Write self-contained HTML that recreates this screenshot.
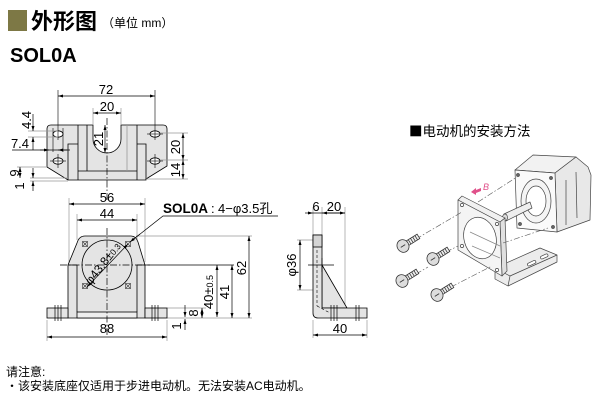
<!DOCTYPE html>
<html><head><meta charset="utf-8"><style>
html,body{margin:0;padding:0;background:#fff;}
body{width:600px;height:400px;overflow:hidden;position:relative;font-family:"Liberation Sans","Noto Sans CJK SC",sans-serif;}
svg{position:absolute;left:0;top:0;}
</style></head><body>
<svg width="600" height="400" viewBox="0 0 600 400" xmlns="http://www.w3.org/2000/svg" font-family="'Liberation Sans','Noto Sans CJK SC',sans-serif">
<defs>
<marker id="a" viewBox="0 0 10 6" refX="10" refY="3" markerWidth="6" markerHeight="3" orient="auto-start-reverse" markerUnits="userSpaceOnUse"><path d="M0,0L10,3L0,6z" fill="#000"/></marker>
</defs>

<!-- header -->
<rect x="8" y="10" width="19" height="21" fill="#7d7845"/>
<text x="31" y="29" font-size="22" font-weight="bold" font-family="'Noto Sans CJK SC',sans-serif">外形图</text>
<text x="102" y="27" font-size="12" font-family="'Liberation Sans','Noto Sans CJK SC',sans-serif">（单位 mm）</text>
<text x="10" y="62" font-size="20" font-weight="bold">SOL0A</text>

<!-- ============ TOP VIEW ============ -->
<g stroke="#000" stroke-width="0.8">
<path d="M47,129 Q47,125 51,125 L93,125 L93,139 A14,14 0 0 0 121,139 L121,125 L163,125 Q167,125 167,129 L167,166 L146,179 L146,180 L68,180 L47,167 Z" fill="#e4e4e4"/>
<line x1="78" y1="125" x2="78" y2="180"/>
<line x1="137" y1="125" x2="137" y2="180"/>
<line x1="78" y1="171" x2="137" y2="171"/>
<line x1="87" y1="125" x2="87" y2="171"/>
<line x1="127" y1="125" x2="127" y2="171" stroke="#999"/>
<polyline points="68,180 68,144 78,144" fill="none"/>
<polyline points="137,144 146,144 146,180" fill="none"/>
<ellipse cx="58" cy="134" rx="5" ry="3.2" fill="#fff"/>
<ellipse cx="58" cy="161" rx="5" ry="3.2" fill="#fff"/>
<ellipse cx="155" cy="134" rx="5" ry="3.2" fill="#fff"/>
<ellipse cx="155" cy="161" rx="5" ry="3.2" fill="#fff"/>
</g>
<g stroke="#000" stroke-width="0.6">
<line x1="50" y1="161" x2="66" y2="161"/><line x1="147" y1="161" x2="163" y2="161"/>
<line x1="147" y1="134" x2="163" y2="134"/>
<line x1="58" y1="154" x2="58" y2="168"/><line x1="155" y1="154" x2="155" y2="168"/>
<line x1="155" y1="90" x2="155" y2="140"/>
<line x1="58" y1="90" x2="58" y2="140"/>
<line x1="53" y1="128" x2="53" y2="152"/><line x1="63" y1="128" x2="63" y2="152"/>
</g>
<line x1="107" y1="118" x2="107" y2="200" stroke="#000" stroke-width="0.7" stroke-dasharray="7,2,1.5,2"/>
<g stroke="#999" stroke-width="0.7">
<line x1="93" y1="108" x2="93" y2="125"/><line x1="121" y1="108" x2="121" y2="125"/>
<line x1="160" y1="133" x2="188" y2="133"/><line x1="160" y1="160" x2="188" y2="160"/><line x1="146" y1="179" x2="188" y2="179"/>
<line x1="28" y1="131" x2="58" y2="131"/><line x1="28" y1="137" x2="58" y2="137"/>
<line x1="17" y1="167" x2="47" y2="167"/>
<line x1="30" y1="178" x2="68" y2="178"/><line x1="30" y1="181" x2="68" y2="181"/>
</g>
<g stroke="#000" stroke-width="0.7" fill="none">
<line x1="58" y1="96" x2="155" y2="96" marker-start="url(#a)" marker-end="url(#a)"/>
<line x1="93" y1="113" x2="121" y2="113" marker-start="url(#a)" marker-end="url(#a)"/>
<line x1="105" y1="125" x2="105" y2="153" marker-start="url(#a)" marker-end="url(#a)"/>
<line x1="183" y1="133" x2="183" y2="160" marker-start="url(#a)" marker-end="url(#a)"/>
<line x1="183" y1="160" x2="183" y2="179" marker-start="url(#a)" marker-end="url(#a)"/>
<line x1="33" y1="114" x2="33" y2="131" marker-end="url(#a)"/>
<line x1="33" y1="150" x2="33" y2="137" marker-end="url(#a)"/>
<line x1="12" y1="150" x2="70" y2="150"/>
<line x1="40" y1="150" x2="49" y2="150" marker-end="url(#a)"/>
<line x1="67" y1="150" x2="58" y2="150" marker-end="url(#a)"/>
<line x1="20" y1="167" x2="20" y2="178" marker-start="url(#a)" marker-end="url(#a)"/>
<line x1="33" y1="168" x2="33" y2="178" marker-end="url(#a)"/>
<line x1="33" y1="191" x2="33" y2="181" marker-end="url(#a)"/>
</g>
<g font-size="13" fill="#000">
<text x="106" y="94" text-anchor="middle">72</text>
<text x="107" y="111" text-anchor="middle">20</text>
<text transform="translate(103,139) rotate(-90)" text-anchor="middle">21</text>
<text transform="translate(180,147) rotate(-90)" text-anchor="middle">20</text>
<text transform="translate(180,170) rotate(-90)" text-anchor="middle">14</text>
<text transform="translate(31,120) rotate(-90)" text-anchor="middle">4.4</text>
<text x="20" y="148" text-anchor="middle">7.4</text>
<text transform="translate(19,173) rotate(-90)" text-anchor="middle">9</text>
<text transform="translate(24,186) rotate(-90)" text-anchor="middle">1</text>
</g>

<!-- ============ FRONT VIEW ============ -->
<g stroke="#999" stroke-width="0.7">
<line x1="69" y1="198" x2="69" y2="262"/><line x1="145" y1="198" x2="145" y2="262"/>
<line x1="77" y1="214" x2="77" y2="240"/><line x1="137" y1="214" x2="137" y2="240"/>
<line x1="136" y1="236" x2="252" y2="236"/>
<line x1="167" y1="318" x2="252" y2="318"/>
<line x1="167" y1="308" x2="206" y2="308"/>
<line x1="47" y1="320" x2="47" y2="341"/><line x1="167" y1="320" x2="167" y2="341"/>
</g>
<g stroke="#000" stroke-width="0.8">
<path d="M68,318 L68,265 L77,243 Q79,236 85,236 L131,236 Q136,236 138,242 L145,265 L145,318 Z" fill="#e4e4e4"/>
<rect x="47" y="308" width="21" height="10" fill="#e4e4e4"/>
<rect x="145" y="308" width="22" height="10" fill="#e4e4e4"/>
<rect x="77" y="312" width="60" height="6" fill="#eeeeee"/>
<line x1="77" y1="265" x2="77" y2="312"/><line x1="137" y1="265" x2="137" y2="312"/>
<line x1="68" y1="265" x2="77" y2="265"/><line x1="137" y1="265" x2="145" y2="265"/>
<circle cx="107" cy="265" r="25" fill="none"/>
</g>
<g stroke="#000" stroke-width="0.7">
<line x1="55" y1="305" x2="55" y2="321"/><line x1="58" y1="305" x2="58" y2="321"/><line x1="61" y1="305" x2="61" y2="321"/>
<line x1="152" y1="305" x2="152" y2="321"/><line x1="155" y1="305" x2="155" y2="321"/><line x1="158" y1="305" x2="158" y2="321"/>
</g>
<g stroke="#333" stroke-width="0.6" fill="none">
<rect x="82.5" y="241.5" width="5" height="5"/><path d="M82.5,241.5l5,5M87.5,241.5l-5,5"/>
<rect x="125.5" y="241.5" width="5" height="5"/><path d="M125.5,241.5l5,5M130.5,241.5l-5,5"/>
<rect x="82.5" y="283.5" width="5" height="5"/><path d="M82.5,283.5l5,5M87.5,283.5l-5,5"/>
<rect x="125.5" y="283.5" width="5" height="5"/><path d="M125.5,283.5l5,5M130.5,283.5l-5,5"/>
</g>
<g stroke="#000" stroke-width="0.7" stroke-dasharray="7,2,1.5,2">
<line x1="107" y1="228" x2="107" y2="336"/>
<line x1="60" y1="265" x2="150" y2="265"/>
</g>
<line x1="145" y1="265" x2="234" y2="265" stroke="#000" stroke-width="0.7"/>
<g stroke="#000" stroke-width="0.7" fill="none">
<line x1="69" y1="204" x2="145" y2="204" marker-start="url(#a)" marker-end="url(#a)"/>
<line x1="77" y1="220" x2="137" y2="220" marker-start="url(#a)" marker-end="url(#a)"/>
<line x1="47" y1="337" x2="167" y2="337" marker-start="url(#a)" marker-end="url(#a)"/>
<line x1="249" y1="236" x2="249" y2="318" marker-start="url(#a)" marker-end="url(#a)"/>
<line x1="232" y1="265" x2="232" y2="318" marker-start="url(#a)" marker-end="url(#a)"/>
<line x1="217" y1="265" x2="217" y2="317" marker-start="url(#a)" marker-end="url(#a)"/>
<line x1="202" y1="308" x2="202" y2="318" marker-start="url(#a)" marker-end="url(#a)"/>
<line x1="185" y1="305" x2="185" y2="317" marker-end="url(#a)"/>
<line x1="185" y1="330" x2="185" y2="319" marker-end="url(#a)"/>
<line x1="128" y1="244" x2="87" y2="287" marker-start="url(#a)" marker-end="url(#a)"/>
<polyline points="278,216 163,216 130,242"/>
<line x1="140" y1="234" x2="130" y2="242" marker-end="url(#a)"/>
</g>
<g font-size="13" fill="#000">
<text x="107" y="202" text-anchor="middle">56</text>
<text x="107" y="218" text-anchor="middle">44</text>
<text x="107" y="333" text-anchor="middle">88</text>
<text transform="translate(246,268) rotate(-90)" text-anchor="middle">62</text>
<text transform="translate(229,292) rotate(-90)" text-anchor="middle">41</text>
<text transform="translate(213,292) rotate(-90)" text-anchor="middle">40±<tspan font-size="9">0.5</tspan></text>
<text transform="translate(198,313) rotate(-90)" text-anchor="middle">8</text>
<text transform="translate(181,326) rotate(-90)" text-anchor="middle">1</text>
<text transform="translate(106,266) rotate(-52)" text-anchor="middle" font-size="12">φ43.8±<tspan font-size="8.5">0.3</tspan></text>
</g>
<text x="163" y="213" font-size="13.5" font-weight="bold">SOL0A</text>
<text x="211" y="213" font-size="13">:</text>
<text x="218" y="213" font-size="13" font-family="'Liberation Sans','Noto Sans CJK SC',sans-serif">4−φ3.5孔</text>

<!-- ============ SIDE VIEW ============ -->
<g stroke="#999" stroke-width="0.7">
<line x1="313" y1="207" x2="313" y2="235"/><line x1="322" y1="207" x2="322" y2="235"/><line x1="345" y1="207" x2="345" y2="306"/>
<line x1="297" y1="240" x2="315" y2="240"/><line x1="297" y1="290" x2="315" y2="290"/>
<line x1="313" y1="320" x2="313" y2="338"/><line x1="367" y1="320" x2="367" y2="338"/>
</g>
<g stroke="#000" stroke-width="0.8">
<polygon points="322,265 347,308 322,308" fill="#e4e4e4"/>
<path d="M313,235 L322,235 L322,308 L367,308 L367,318 L318,318 Q313,318 313,313 Z" fill="#e4e4e4"/>
<rect x="313" y="235" width="9" height="12" fill="#d4d4d4"/>
<line x1="317" y1="250" x2="317" y2="306" stroke-dasharray="3,2" stroke-width="0.6"/>
<line x1="317" y1="306" x2="330" y2="313" stroke-dasharray="3,2" stroke-width="0.6"/>
</g>
<g stroke="#000" stroke-width="0.7">
<line x1="331" y1="305" x2="331" y2="321"/><line x1="334" y1="305" x2="334" y2="321"/><line x1="337" y1="305" x2="337" y2="321"/>
<line x1="356" y1="305" x2="356" y2="321"/><line x1="359" y1="305" x2="359" y2="321"/>
<line x1="308" y1="265" x2="334" y2="265"/><line x1="322" y1="258" x2="322" y2="272"/>
</g>
<g stroke="#000" stroke-width="0.7" fill="none">
<line x1="305" y1="213" x2="313" y2="213" marker-end="url(#a)"/>
<line x1="313" y1="213" x2="345" y2="213"/>
<line x1="322" y1="213" x2="345" y2="213" marker-start="url(#a)" marker-end="url(#a)"/>
<line x1="300" y1="240" x2="300" y2="290" marker-start="url(#a)" marker-end="url(#a)"/>
<line x1="313" y1="335" x2="367" y2="335" marker-start="url(#a)" marker-end="url(#a)"/>
</g>
<g font-size="13" fill="#000">
<text x="316" y="211" text-anchor="middle">6</text>
<text x="334" y="211" text-anchor="middle">20</text>
<text transform="translate(296,265) rotate(-90)" text-anchor="middle">φ36</text>
<text x="340" y="333" text-anchor="middle">40</text>
</g>

<!-- ============ 3D ILLUSTRATION ============ -->
<text x="409" y="136" font-size="13.5" font-family="'Noto Sans CJK SC',sans-serif">■电动机的安装方法</text>
<g stroke="#444" stroke-width="0.7" stroke-linejoin="round">
<polygon points="515,170 533,155 576,157 555,173" fill="#f2f2f2"/>
<polygon points="555,173 576,157 588,167 591,175 590,220 557,232" fill="#e8e8e8"/>
<polygon points="515,170 555,173 557,232 517,228" fill="#fafafa"/>
<ellipse cx="536" cy="201" rx="15" ry="22" fill="#f4f4f4"/>
<ellipse cx="536" cy="201" rx="10" ry="15" fill="#fff"/>
<line x1="566" y1="180" x2="566" y2="225"/><line x1="576" y1="172" x2="577" y2="218"/>
<circle cx="518" cy="175" r="1.5" fill="#666"/><circle cx="551" cy="178" r="1.5" fill="#666"/>
<circle cx="553" cy="227" r="1.5" fill="#666"/><circle cx="520" cy="224" r="1.5" fill="#666"/>
<polygon points="504,214 530,202 532,208 506,221" fill="#eee"/>
<ellipse cx="505" cy="217.5" rx="2.5" ry="3.5" fill="#ddd"/>
<polygon points="495,268 540,248 557,255 557,262 508,286 495,279" fill="#ececec"/>
<polyline points="495,268 510,276 557,255" fill="none"/>
<line x1="510" y1="276" x2="508" y2="286"/>
<rect x="527" y="262" width="9" height="3" rx="1.5" transform="rotate(-25 531 263)" fill="#fff"/>
<rect x="540" y="255" width="8" height="3" rx="1.5" transform="rotate(-25 544 256)" fill="#fff"/>
<polygon points="458,200 462,196 505,218 500,222" fill="#f0f0f0"/>
<polygon points="500,222 505,218 507,271 502,276" fill="#e0e0e0"/>
<polygon points="458,200 500,222 502,276 458,250" fill="#f4f4f4"/>
<ellipse cx="480" cy="238" rx="16" ry="21" transform="rotate(-15 480 238)" fill="#fff"/>
<path d="M470,232 L500,246 M472,246 L500,258" fill="none" stroke="#888"/>
<circle cx="462" cy="205" r="1.6" fill="#fff"/><circle cx="497" cy="224" r="1.6" fill="#fff"/>
<circle cx="462" cy="246" r="1.6" fill="#fff"/><circle cx="497" cy="270" r="1.6" fill="#fff"/>
</g>
<g stroke="#555" stroke-width="0.6" stroke-dasharray="6,2,1.5,2" fill="none">
<line x1="416" y1="239" x2="462" y2="212"/>
<line x1="478" y1="202" x2="517" y2="177"/>
<line x1="446" y1="252" x2="458" y2="246"/>
<line x1="416" y1="274" x2="428" y2="267"/>
<line x1="451" y1="287" x2="492" y2="266"/>
<line x1="503" y1="243" x2="548" y2="228"/>
</g>
<g stroke="#333" stroke-width="0.6" fill="#ddd">
<g transform="translate(403,246) rotate(-32) scale(1.3)"><rect x="3" y="-2" width="11" height="4" fill="#eee"/><path d="M6,-2v4M8,-2v4M10,-2v4M12,-2v4" fill="none"/><ellipse cx="0" cy="0" rx="4.5" ry="5"/><line x1="-2" y1="0" x2="2" y2="0"/></g>
<g transform="translate(433,259) rotate(-32) scale(1.3)"><rect x="3" y="-2" width="11" height="4" fill="#eee"/><path d="M6,-2v4M8,-2v4M10,-2v4M12,-2v4" fill="none"/><ellipse cx="0" cy="0" rx="4.5" ry="5"/><line x1="-2" y1="0" x2="2" y2="0"/></g>
<g transform="translate(402,281) rotate(-32) scale(1.3)"><rect x="3" y="-2" width="11" height="4" fill="#eee"/><path d="M6,-2v4M8,-2v4M10,-2v4M12,-2v4" fill="none"/><ellipse cx="0" cy="0" rx="4.5" ry="5"/><line x1="-2" y1="0" x2="2" y2="0"/></g>
<g transform="translate(437,295) rotate(-32) scale(1.3)"><rect x="3" y="-2" width="11" height="4" fill="#eee"/><path d="M6,-2v4M8,-2v4M10,-2v4M12,-2v4" fill="none"/><ellipse cx="0" cy="0" rx="4.5" ry="5"/><line x1="-2" y1="0" x2="2" y2="0"/></g>
</g>
<polygon points="471,192 476,188 476,190 481,188 481,191 476,193 476,195" fill="#e0508a"/>
<text x="483" y="190" font-size="9" font-style="italic" fill="#e0508a">B</text>

<!-- notes -->
<text x="6" y="376" font-size="12" font-family="'Liberation Sans','Noto Sans CJK SC',sans-serif">请注意:</text>
<text x="6" y="390" font-size="12" font-family="'Liberation Sans','Noto Sans CJK SC',sans-serif">・该安装底座仅适用于步进电动机。无法安装AC电动机。</text>
</svg>
</body></html>
